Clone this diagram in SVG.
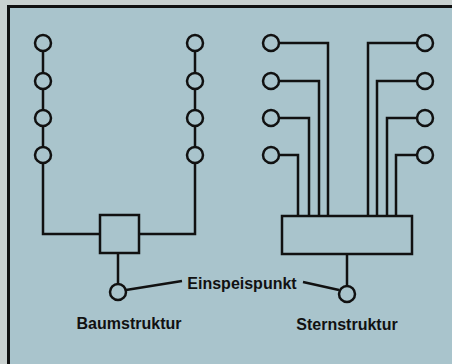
<svg xmlns="http://www.w3.org/2000/svg" width="452" height="364" viewBox="0 0 452 364">
<style>
.ln{stroke:#111;stroke-width:2.5;fill:none;stroke-linejoin:miter}
.nd{stroke:#111;stroke-width:2.5;fill:#a9c4cc}
.tx{font-family:"Liberation Sans",Arial,sans-serif;font-weight:bold;font-size:16px;fill:#111}
</style>
<rect x="0" y="0" width="452" height="364" fill="#c9d1d0"/>
<rect x="8" y="6" width="444" height="358" fill="#a9c4cc"/>
<path d="M8.5 364V6.5H452" stroke="#111" stroke-width="3" fill="none"/>
<g id="connectors">
  <path class="ln" d="M43 43V155M43 163V234H100"/>
  <path class="ln" d="M195 43V155M195 163V234H139"/>
  <path class="ln" d="M118 253V284"/>
  <path class="ln" d="M279 43H328V216M279 81H319V216M279 118H309V216M279 155H298V216"/>
  <path class="ln" d="M417 43H368V216M417 81H377V216M417 118H387V216M417 155H396V216"/>
  <path class="ln" d="M347 254V286"/>
  <path class="ln" d="M126 290L182 281"/>
  <path class="ln" d="M303 282L339 290"/>
</g>
<g id="baum">
  <g id="baum-l1"><circle class="nd" cx="43" cy="43" r="8"/></g>
  <g id="baum-l2"><circle class="nd" cx="43" cy="81" r="8"/></g>
  <g id="baum-l3"><circle class="nd" cx="43" cy="118" r="8"/></g>
  <g id="baum-l4"><circle class="nd" cx="43" cy="155" r="8"/></g>
  <g id="baum-r1"><circle class="nd" cx="195" cy="43" r="8"/></g>
  <g id="baum-r2"><circle class="nd" cx="195" cy="81" r="8"/></g>
  <g id="baum-r3"><circle class="nd" cx="195" cy="118" r="8"/></g>
  <g id="baum-r4"><circle class="nd" cx="195" cy="155" r="8"/></g>
  <g id="baum-box"><rect class="nd" x="100" y="215" width="39" height="38"/></g>
  <g id="baum-feed"><circle class="nd" cx="118" cy="292" r="8"/></g>
  <text class="tx" x="129" y="329" text-anchor="middle">Baumstruktur</text>
</g>
<g id="stern">
  <g id="stern-l1"><circle class="nd" cx="271" cy="43" r="8"/></g>
  <g id="stern-l2"><circle class="nd" cx="271" cy="81" r="8"/></g>
  <g id="stern-l3"><circle class="nd" cx="271" cy="118" r="8"/></g>
  <g id="stern-l4"><circle class="nd" cx="271" cy="155" r="8"/></g>
  <g id="stern-r1"><circle class="nd" cx="425" cy="43" r="8"/></g>
  <g id="stern-r2"><circle class="nd" cx="425" cy="81" r="8"/></g>
  <g id="stern-r3"><circle class="nd" cx="425" cy="118" r="8"/></g>
  <g id="stern-r4"><circle class="nd" cx="425" cy="155" r="8"/></g>
  <g id="stern-box"><rect class="nd" x="282" y="216" width="130" height="38"/></g>
  <g id="stern-feed"><circle class="nd" cx="347" cy="294" r="8"/></g>
  <text class="tx" x="347" y="330" text-anchor="middle">Sternstruktur</text>
</g>
<g id="label">
  <text class="tx" x="242" y="289" text-anchor="middle">Einspeispunkt</text>
</g>
</svg>
